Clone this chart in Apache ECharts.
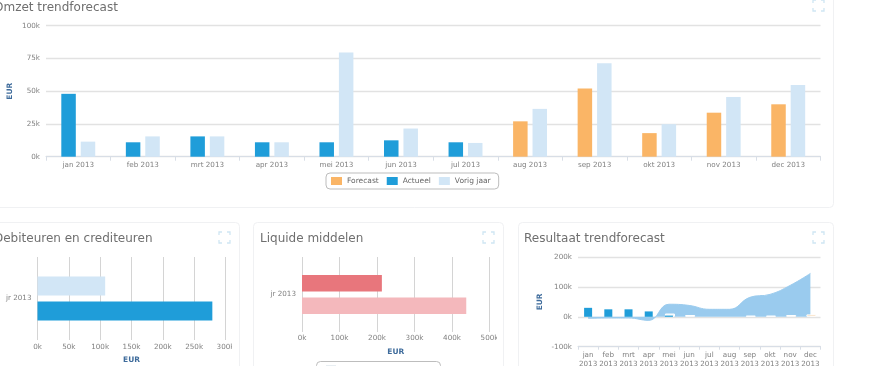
<!DOCTYPE html>
<html>
<head>
<meta charset="utf-8">
<style>
html,body{margin:0;padding:0;background:#fff;overflow:hidden}
#c{width:870px;height:366px;filter:blur(0.35px)}
</style>
<script src="https://cdn.jsdelivr.net/npm/echarts@6/dist/echarts.min.js"></script>
</head>
<body>
<div id="c"></div>
<script>
const months = ['jan 2013','feb 2013','mrt 2013','apr 2013','mei 2013','jun 2013','jul 2013','aug 2013','sep 2013','okt 2013','nov 2013','dec 2013'];
const monthsWrapped = ['jan\n2013','feb\n2013','mrt\n2013','apr\n2013','mei\n2013','jun\n2013','jul\n2013','aug\n2013','sep\n2013','okt\n2013','nov\n2013','dec\n2013'];
const omzetForecast = [null,null,null,null,null,null,null,27000,52000,18000,33600,40000];
const omzetActueel = [48000,11000,15500,11000,11000,12500,11000,null,null,null,null,null];
const omzetVorigJaar = [11500,15500,15500,11000,79500,21500,10500,36500,71300,24800,45600,54700];
const yearCat = ['jr 2013'];
const debiteuren = [108000];
const crediteuren = [279000];
const liquideA = [213000];
const liquideB = [438000];
const resActueel = [30000,25000,25000,18000,4000,null,null,null,null,null,null,null];
const resVorig = [null,null,null,null,11000,6000,null,null,4000,4000,null,null];
const resForecast = [null,null,null,null,null,null,null,null,null,null,6000,8000];
const resCumulatief = [-5000,-4000,-4000,-12000,42000,38000,25000,25000,65000,75000,105000,145000];

const BLUE='#1f9dd9', LIGHT='#d2e6f6', ORANGE='#fab566', RED='#e8767c', PINK='#f4b8bc';
const FONT='"DejaVu Sans", sans-serif', LABEL='#808080', AXISNAME='#3f6c9c';
const kFmt = v => (v/1000)+'k';
const lab = {color:LABEL,fontSize:7.2,fontFamily:FONT};
const eur = {color:AXISNAME,fontSize:7.5,fontWeight:'bold',fontFamily:FONT};
const titleStyle = {color:'#6f6f6f',fontSize:12,fontWeight:'normal',fontFamily:FONT};

function panel(x,y,w,h){return {type:'rect',shape:{x:x+.5,y:y+.5,width:w,height:h,r:4},style:{fill:'#fff',stroke:'#f0f1f3',lineWidth:1},z:-1};}
function expand(x,y){
  const s={stroke:'#cfe6f3',fill:'none',lineWidth:1.3};
  const d=11;
  return [[[x,y+3],[x,y],[x+3,y]],[[x+d-3,y],[x+d,y],[x+d,y+3]],[[x,y+d-3],[x,y+d],[x+3,y+d]],[[x+d-3,y+d],[x+d,y+d],[x+d,y+d-3]]]
    .map(p=>({type:'polyline',shape:{points:p},style:s,z:50}));
}
const graphics=[
  panel(-20,-20,853,227), panel(-20,222,259,170), panel(253,222,250,170), panel(518,222,315,170),
  ...expand(813,0),...expand(219,232),...expand(483,232),...expand(813,232),
  {type:'rect',shape:{x:232,y:341,width:7,height:12},style:{fill:'#fff'},z:100},
  {type:'rect',shape:{x:497,y:331,width:6,height:12},style:{fill:'#fff'},z:100},
  {type:'rect',shape:{x:316.5,y:361.5,width:124,height:20,r:4},style:{fill:'#fff',stroke:'#bdbdbd'},z:60},
  {type:'rect',shape:{x:326,y:365,width:10,height:8},style:{fill:'#e8eef2'},z:61}
];
const ttl=(text,left,top)=>({text,left,top,padding:0,textStyle:titleStyle});

const option={
  animation:false,
  backgroundColor:'#fff',
  title:[
    ttl('Omzet trendforecast',-6,2),
    ttl('Debiteuren en crediteuren',-6,233),
    ttl('Liquide middelen',260,233),
    ttl('Resultaat trendforecast',524,233)
  ],
  graphic:{elements:graphics},
  legend:{
    data:['Forecast','Actueel','Vorig jaar'],
    left:326,top:173,icon:'rect',itemWidth:11,itemHeight:8,itemGap:8,
    padding:[4,8,4,5],
    borderColor:'#bdbdbd',borderWidth:1,borderRadius:4,backgroundColor:'#fff',
    textStyle:{color:'#666',fontSize:7.5,fontFamily:FONT},
    selectedMode:false
  },
  grid:[
    {left:46,top:25.7,width:774.5,height:131,outerBoundsMode:'none'},
    {left:37.5,top:257,width:188,height:83,outerBoundsMode:'none'},
    {left:302,top:257,width:187.5,height:75,outerBoundsMode:'none'},
    {left:578,top:257,width:242.5,height:89.7,outerBoundsMode:'none'}
  ],
  xAxis:[
    {gridIndex:0,type:'category',data:months,axisLine:{lineStyle:{color:'#d8dee6'}},axisTick:{show:true,lineStyle:{color:'#d8dee6'},length:4},axisLabel:{...lab,margin:5}},
    {gridIndex:1,type:'value',min:0,max:300000,interval:50000,axisLine:{show:false},axisTick:{show:false},splitLine:{lineStyle:{color:'#d4d4d4'}},axisLabel:{...lab,margin:4,formatter:kFmt},name:'EUR',nameLocation:'middle',nameGap:16,nameTextStyle:eur},
    {gridIndex:2,type:'value',min:0,max:500000,interval:100000,axisLine:{show:false},axisTick:{show:false},splitLine:{lineStyle:{color:'#d4d4d4'}},axisLabel:{...lab,margin:3,formatter:kFmt},name:'EUR',nameLocation:'middle',nameGap:16,nameTextStyle:eur},
    {gridIndex:3,type:'category',data:monthsWrapped,axisLine:{onZero:false,lineStyle:{color:'#d8dee6'}},axisTick:{show:true,lineStyle:{color:'#d8dee6'},length:3},axisLabel:{...lab,margin:4,lineHeight:9,interval:0}}
  ],
  yAxis:[
    {gridIndex:0,type:'value',min:0,max:100000,interval:25000,axisLine:{show:false},axisTick:{show:false},splitLine:{lineStyle:{color:'#e2e2e2',width:1.3}},axisLabel:{...lab,margin:6,formatter:kFmt},name:'EUR',nameLocation:'middle',nameGap:32,nameMoveOverlap:false,nameTextStyle:eur},
    {gridIndex:1,type:'category',data:yearCat,axisLine:{show:false},axisTick:{show:false},axisLabel:{...lab,margin:6}},
    {gridIndex:2,type:'category',data:yearCat,axisLine:{show:false},axisTick:{show:false},axisLabel:{...lab,margin:6}},
    {gridIndex:3,type:'value',min:-100000,max:200000,interval:100000,axisLine:{show:false},axisTick:{show:false},splitLine:{lineStyle:{color:'#e2e2e2',width:1.3}},axisLabel:{...lab,margin:6,formatter:kFmt},name:'EUR',nameLocation:'middle',nameGap:34,nameTextStyle:eur}
  ],
  series:[
    {name:'Forecast',type:'bar',xAxisIndex:0,yAxisIndex:0,stack:'cur',barWidth:14.5,barGap:'34%',data:omzetForecast,itemStyle:{color:ORANGE}},
    {name:'Actueel',type:'bar',xAxisIndex:0,yAxisIndex:0,stack:'cur',barWidth:14.5,barGap:'34%',data:omzetActueel,itemStyle:{color:BLUE}},
    {name:'Vorig jaar',type:'bar',xAxisIndex:0,yAxisIndex:0,barWidth:14.5,barGap:'34%',data:omzetVorigJaar,itemStyle:{color:LIGHT}},

    {name:'Debiteuren',type:'bar',xAxisIndex:1,yAxisIndex:1,barWidth:19,barGap:'32%',data:debiteuren,itemStyle:{color:LIGHT}},
    {name:'Crediteuren',type:'bar',xAxisIndex:1,yAxisIndex:1,barWidth:19,barGap:'32%',data:crediteuren,itemStyle:{color:BLUE}},

    {name:'Liquide A',type:'bar',xAxisIndex:2,yAxisIndex:2,barWidth:16.5,barGap:'36%',data:liquideA,itemStyle:{color:RED}},
    {name:'Liquide B',type:'bar',xAxisIndex:2,yAxisIndex:2,barWidth:16.5,barGap:'36%',data:liquideB,itemStyle:{color:PINK}},

    {name:'Cumulatief',type:'line',xAxisIndex:3,yAxisIndex:3,smooth:0.45,showSymbol:false,data:resCumulatief,z:1,lineStyle:{color:'#9acbee',width:1},areaStyle:{color:'#9acbee',opacity:1,origin:'auto'}},
    {name:'Res vorig',type:'bar',xAxisIndex:3,yAxisIndex:3,barWidth:10,barGap:'-100%',data:resVorig,z:3,itemStyle:{color:'#f3f7fb',borderColor:'#fff',borderWidth:1}},
    {name:'Res forecast',type:'bar',xAxisIndex:3,yAxisIndex:3,barWidth:10,barGap:'-100%',data:resForecast,z:3,itemStyle:{color:'#f6cfa0',borderColor:'#fff',borderWidth:1}},
    {name:'Res actueel',type:'bar',xAxisIndex:3,yAxisIndex:3,barWidth:8,barGap:'-100%',data:resActueel,z:4,itemStyle:{color:BLUE}}
  ]
};
echarts.init(document.getElementById('c'),null,{renderer:'canvas'}).setOption(option);
</script>
</body>
</html>
